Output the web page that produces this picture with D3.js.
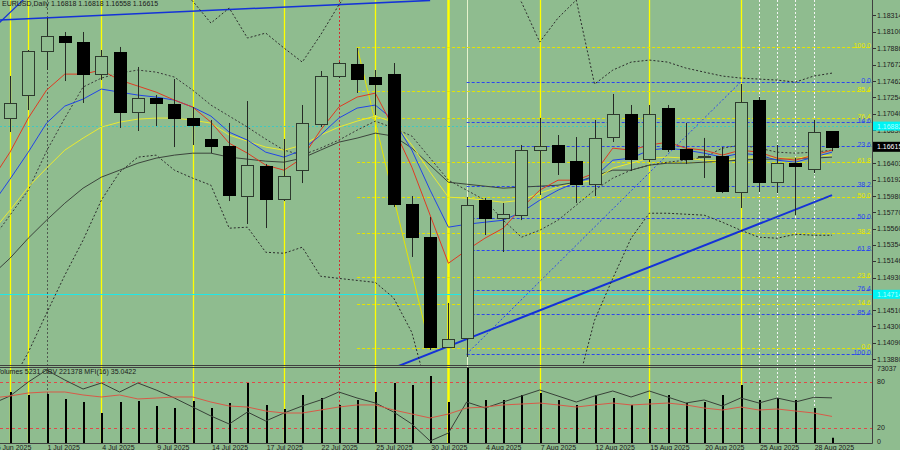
<!DOCTYPE html>
<html><head><meta charset="utf-8">
<script src="https://cdn.jsdelivr.net/npm/d3@7/dist/d3.min.js"></script>
<style>
html,body{margin:0;padding:0;background:#8fbc8f;overflow:hidden}
svg{display:block;font-family:"Liberation Sans",Arial,sans-serif}
</style></head><body>
<svg id="chart" width="900" height="450"></svg>
<script>
// ---------- DATA ----------
const dates = ["2025-06-26","2025-06-27","2025-06-30","2025-07-01","2025-07-02","2025-07-03","2025-07-04","2025-07-07","2025-07-08","2025-07-09","2025-07-10","2025-07-11","2025-07-14","2025-07-15","2025-07-16","2025-07-17","2025-07-18","2025-07-21","2025-07-22","2025-07-23","2025-07-24","2025-07-25","2025-07-28","2025-07-29","2025-07-30","2025-07-31","2025-08-01","2025-08-04","2025-08-05","2025-08-06","2025-08-07","2025-08-08","2025-08-11","2025-08-12","2025-08-13","2025-08-14","2025-08-15","2025-08-18","2025-08-19","2025-08-20","2025-08-21","2025-08-22","2025-08-25","2025-08-26","2025-08-27","2025-08-28","2025-08-29"];
const candleDates = dates.slice(1);
const open  = [1.16987,1.17283,1.17850,1.18043,1.17966,1.17553,1.17837,1.17064,1.17244,1.17167,1.16987,1.16716,1.16625,1.15981,1.16368,1.15942,1.16316,1.16909,1.17528,1.17682,1.17515,1.17553,1.15878,1.15452,1.14035,1.14151,1.15929,1.15697,1.15736,1.16574,1.16638,1.16432,1.16135,1.16741,1.17038,1.16458,1.17115,1.16587,1.16484,1.16496,1.16032,1.17218,1.16161,1.16406,1.16329,1.16818];
const high  = [1.17528,1.17863,1.18275,1.18095,1.18095,1.17863,1.17902,1.17644,1.17283,1.17489,1.17128,1.16961,1.16922,1.17205,1.16393,1.16716,1.17154,1.17592,1.17708,1.17889,1.17605,1.17695,1.15981,1.15710,1.14602,1.15968,1.15955,1.15891,1.16638,1.16987,1.16767,1.16741,1.16961,1.17296,1.17154,1.17154,1.17154,1.16922,1.16729,1.16612,1.17425,1.17257,1.16638,1.16471,1.16961,1.16818];
const low   = [1.16806,1.17089,1.17605,1.17463,1.17180,1.17476,1.16858,1.16819,1.16883,1.16612,1.16638,1.16535,1.15916,1.15620,1.15568,1.15916,1.16148,1.16870,1.17502,1.17309,1.17025,1.15839,1.15195,1.13996,1.14022,1.13906,1.15478,1.15259,1.15671,1.15994,1.16252,1.15891,1.15981,1.16677,1.16303,1.16419,1.16548,1.16393,1.16213,1.16019,1.15826,1.16032,1.16019,1.15736,1.16277,1.16558];
const close = [1.17180,1.17850,1.18043,1.17966,1.17553,1.17786,1.17064,1.17244,1.17180,1.16987,1.16896,1.16625,1.15994,1.16380,1.15942,1.16239,1.16922,1.17528,1.17695,1.17489,1.17425,1.15878,1.15452,1.14035,1.14138,1.15865,1.15697,1.15749,1.16574,1.16625,1.16419,1.16135,1.16729,1.17038,1.16458,1.17038,1.16587,1.16458,1.16496,1.16045,1.17193,1.16161,1.16406,1.16368,1.16806,1.16615];

// indicator lines (one value per entry of `dates`)
const maRed    = [1.16185,1.16546,1.16985,1.17346,1.17552,1.17552,1.17604,1.17475,1.17398,1.17320,1.17217,1.17127,1.16933,1.16662,1.16533,1.16379,1.16314,1.16469,1.16830,1.17127,1.17256,1.17307,1.16856,1.16353,1.15734,1.15114,1.15282,1.15437,1.15566,1.15824,1.16056,1.16185,1.16185,1.16275,1.16598,1.16572,1.16637,1.16675,1.16598,1.16572,1.16508,1.16572,1.16546,1.16469,1.16443,1.16508,1.16572];
const maBlue   = [1.15863,1.16198,1.16546,1.16920,1.17140,1.17230,1.17359,1.17320,1.17282,1.17256,1.17217,1.17127,1.17011,1.16804,1.16701,1.16546,1.16482,1.16572,1.16766,1.16985,1.17114,1.17153,1.16959,1.16572,1.16056,1.15579,1.15617,1.15643,1.15669,1.15772,1.15927,1.16056,1.16159,1.16224,1.16443,1.16469,1.16572,1.16598,1.16572,1.16533,1.16482,1.16533,1.16508,1.16443,1.16417,1.16482,1.16546];
const maYellow = [1.15514,1.15798,1.16095,1.16340,1.16572,1.16727,1.16869,1.16933,1.16972,1.16985,1.16985,1.16959,1.16920,1.16766,1.16688,1.16611,1.16572,1.16637,1.16766,1.16869,1.16946,1.17011,1.16933,1.16637,1.16288,1.15966,1.15953,1.15927,1.15901,1.15927,1.16017,1.16095,1.16146,1.16185,1.16340,1.16404,1.16469,1.16482,1.16469,1.16443,1.16430,1.16482,1.16482,1.16469,1.16469,1.16495,1.16508];
const maGray   = [1.14960,1.15179,1.15437,1.15669,1.15888,1.16082,1.16224,1.16314,1.16404,1.16469,1.16508,1.16533,1.16533,1.16482,1.16456,1.16430,1.16417,1.16469,1.16572,1.16675,1.16727,1.16791,1.16753,1.16598,1.16379,1.16159,1.16133,1.16108,1.16082,1.16095,1.16108,1.16120,1.16159,1.16237,1.16314,1.16314,1.16379,1.16404,1.16404,1.16417,1.16430,1.16443,1.16456,1.16456,1.16469,1.16469,1.16482];
const bandMid  = [1.15411,1.15734,1.16056,1.16559,1.16985,1.17385,1.17501,1.17565,1.17604,1.17578,1.17514,1.17346,1.17153,1.17011,1.16869,1.16714,1.16572,1.16508,1.16598,1.16701,1.16830,1.16946,1.16856,1.16753,1.16469,1.16185,1.16056,1.15927,1.15669,1.15450,1.15540,1.15669,1.15863,1.16056,1.16211,1.16314,1.16379,1.16417,1.16443,1.16482,1.16598,1.16637,1.16598,1.16546,1.16533,1.16546,1.16572];
const bandUpper = [null,null,null,null,null,null,null,null,null,null,1.18636,1.18494,1.18210,1.18404,1.18017,1.18081,1.17888,1.17707,1.18056,1.18443,1.18765,null,null,null,null,null,null,null,1.18765,1.18481,1.17965,1.18275,1.18507,1.17423,1.17604,1.17707,1.17733,1.17707,1.17630,1.17578,1.17527,1.17501,1.17488,1.17475,1.17449,1.17527,1.17565];
const bandLower = [1.13089,1.13540,1.13966,1.14469,1.14960,1.15411,1.15927,1.16288,1.16482,1.16508,1.16314,1.16211,1.16120,1.15566,1.15579,1.15256,1.15243,1.15321,1.14947,1.14919,1.14893,1.14867,1.14668,1.14222,1.13347,null,null,null,null,null,null,null,1.13476,1.14379,1.14919,1.15437,1.15759,1.15759,1.15746,1.15734,1.15643,1.15540,1.15450,1.15437,1.15488,1.15475,1.15475];

// lower panel
const volume = [49660,46740,47720,42850,39930,29210,39930,40900,36030,34080,40900,34080,38950,58430,37000,33110,46740,43820,37000,41870,49660,58430,56480,65240,39930,73037,41870,41870,46740,48690,41870,37000,46740,43820,37000,42850,46740,38950,39930,46740,56480,41870,43820,41870,34080,5231];
const obv = [160000,240000,380000,500000,400000,310000,370000,280000,370000,300000,220000,130000,40000,-40000,80000,-10000,70000,140000,200000,280000,220000,170000,80000,-40000,-210000,-130000,180000,120000,180000,240000,300000,240000,180000,240000,290000,230000,290000,230000,170000,200000,140000,220000,170000,220000,180000,226609,221378];
const mfi = [59,61.7,65.6,66.9,66.9,63,60.4,63,57.8,59,60.4,60.4,53.8,48.6,47.3,42.1,39.5,39.5,43.4,47.3,50,50,43.4,38.2,33,38.2,46,47.3,50,51.2,52.5,50,47.3,50,52.5,50,51.2,52.5,50,46,43.4,47.3,43.4,44.7,42.1,39.5,35.0422];

// axes
const priceTicks = [1.18314,1.18100,1.17886,1.17672,1.17462,1.17254,1.17040,1.16830,1.16403,1.16192,1.15980,1.15770,1.15560,1.15354,1.15146,1.14930,1.14510,1.14300,1.14090,1.13880];
const dateTicks = [["2025-06-26","26 Jun 2025"],["2025-07-01","1 Jul 2025"],["2025-07-04","4 Jul 2025"],["2025-07-09","9 Jul 2025"],["2025-07-14","14 Jul 2025"],["2025-07-17","17 Jul 2025"],["2025-07-22","22 Jul 2025"],["2025-07-25","25 Jul 2025"],["2025-07-30","30 Jul 2025"],["2025-08-04","4 Aug 2025"],["2025-08-07","7 Aug 2025"],["2025-08-12","12 Aug 2025"],["2025-08-15","15 Aug 2025"],["2025-08-20","20 Aug 2025"],["2025-08-25","25 Aug 2025"],["2025-08-28","28 Aug 2025"]];
const lastPrice = 1.16615;
const cyanLevels = [1.16882, 1.14714];
const fibLevels = [0,14.6,23.6,38.2,50,61.8,76.4,85.4,100];
const fibYellow = {startDate:"2025-07-24", endDate:"2025-07-30", hi:1.17902, lo:1.14022};
const fibBlue   = {startDate:"2025-08-01", endDate:"2025-08-22", lo:1.13944, hi:1.17450};
const yellowVLines = ["2025-06-27","2025-06-30","2025-07-04","2025-07-11","2025-07-18","2025-07-25","2025-07-31","2025-08-07","2025-08-15","2025-08-22"];
const lightVLines = ["2025-08-01"];
const whiteDotVLines = ["2025-08-25","2025-08-26","2025-08-27","2025-08-28"];
const redDotVLines = ["2025-07-23"];
const grayDotVLines = ["2025-07-01"];
const trendLines = [
  {d1:"2025-06-26", p1:1.18244, d2:"2025-07-30", p2:1.18502, w:1.5},
  {d1:"2025-06-26", p1:1.18120, d2:"2025-06-30", p2:1.18572, w:1.2},
  {d1:"2025-07-28", p1:1.13765, d2:"2025-08-29", p2:1.15992, w:2}
];
const titleText = "EURUSD,Daily  1.16818 1.16818 1.16558 1.16615";
const indTitle = "Volumes 5231  OBV 221378  MFI(16) 35.0422";

// ---------- LAYOUT ----------
const W=900, H=450, plotR=872, mainB=365.5, indT=367.5, indB=443.5;
const BG="#8fbc8f";
const svg = d3.select("#chart");
const x = d3.scalePoint().domain(dates).range([10-18.267, 832]);
const y = d3.scaleLinear().domain([1.13880,1.18314]).range([359,15]);
const yVol = d3.scaleLinear().domain([0,73037]).range([443,368]);
const yMfi = d3.scaleLinear().domain([0,100]).range([443.3,366.6]);
const yObv = d3.scaleLinear().domain([-230000,520000]).range([443,368]);
const px = v => Math.round(v)+0.5;

const defs = svg.append("defs");
defs.append("clipPath").attr("id","cm").append("rect").attr("x",0).attr("y",0).attr("width",plotR).attr("height",mainB);
defs.append("clipPath").attr("id","ci").append("rect").attr("x",0).attr("y",indT).attr("width",plotR).attr("height",indB-indT);
defs.append("clipPath").attr("id","ca").append("rect").attr("x",0).attr("y",0).attr("width",plotR).attr("height",indB);

svg.append("rect").attr("width",W).attr("height",H).attr("fill",BG);

// vertical lines
const gV = svg.append("g").attr("clip-path","url(#ca)");
function vlines(list,color,dash,width){
  gV.selectAll(null).data(list).join("line")
    .attr("x1",d=>px(x(d))).attr("x2",d=>px(x(d))).attr("y1",0).attr("y2",indB)
    .attr("stroke",color).attr("stroke-width",d=>typeof width==="function"?width(d):width)
    .attr("stroke-dasharray",dash);
}
vlines(grayDotVLines,"#505a50","2,2",1);
vlines(redDotVLines,"#d03030","2,2",1);
vlines(whiteDotVLines,"#f4f4f4","2,2",1);
vlines(lightVLines,"#e6f2cc",null,1);
vlines(yellowVLines,"#ffff00",null,d=>d==="2025-07-31"?2.5:1.3);

// main panel objects
const gM = svg.append("g").attr("clip-path","url(#cm)");
// cyan levels
gM.append("line").attr("x1",0).attr("x2",plotR).attr("y1",px(y(cyanLevels[0]))).attr("y2",px(y(cyanLevels[0])))
  .attr("stroke","#40c8c0").attr("stroke-dasharray","2,2");
gM.append("line").attr("x1",0).attr("x2",plotR).attr("y1",px(y(cyanLevels[1]))).attr("y2",px(y(cyanLevels[1])))
  .attr("stroke","#20e8e8").attr("stroke-width",1);

// fib levels
function fibPrices(f, dir){ return fibLevels.map(l => ({l, p: dir>0 ? f.lo + l/100*(f.hi-f.lo) : f.hi - l/100*(f.hi-f.lo)})); }
const fy = fibPrices(fibYellow, 1), fb = fibPrices(fibBlue, -1);
gM.selectAll(null).data(fy).join("line")
  .attr("x1",x(fibYellow.startDate)).attr("x2",plotR).attr("y1",d=>px(y(d.p))).attr("y2",d=>px(y(d.p)))
  .attr("stroke","#e4e400").attr("stroke-dasharray","3,2");
gM.selectAll(null).data(fb).join("line")
  .attr("x1",x(fibBlue.startDate)).attr("x2",plotR).attr("y1",d=>px(y(d.p))).attr("y2",d=>px(y(d.p)))
  .attr("stroke","#2a46f0").attr("stroke-dasharray","3,2");
// fib diagonals
gM.append("line").attr("x1",x(fibYellow.startDate)).attr("y1",y(fibYellow.hi)).attr("x2",x(fibYellow.endDate)).attr("y2",y(fibYellow.lo))
  .attr("stroke","#e4e400").attr("stroke-width",1);
gM.append("line").attr("x1",x(fibBlue.startDate)).attr("y1",y(fibBlue.lo)).attr("x2",x(fibBlue.endDate)).attr("y2",y(fibBlue.hi))
  .attr("stroke","#2a46f0").attr("stroke-dasharray","2,2");

// trend lines
gM.selectAll(null).data(trendLines).join("line")
  .attr("x1",d=>x(d.d1)).attr("y1",d=>y(d.p1)).attr("x2",d=>x(d.d2)).attr("y2",d=>y(d.p2))
  .attr("stroke","#1432d8").attr("stroke-width",d=>d.w);

// bands & MAs
function series(vals,color,dash,width){
  const line = d3.line().defined(d=>d[1]!=null).x(d=>x(d[0])).y(d=>y(d[1]));
  gM.append("path").datum(dates.map((d,i)=>[d,vals[i]])).attr("d",line)
    .attr("fill","none").attr("stroke",color).attr("stroke-width",width||1).attr("stroke-dasharray",dash);
}
series(bandUpper,"#2c2c2c","2,2");
series(bandLower,"#2c2c2c","2,2");
series(bandMid,"#3a3a3a","2,2");
series(maGray,"#3c443c",null);
series(maYellow,"#eaea30",null);
series(maBlue,"#2244e8",null);
series(maRed,"#e03a22",null);

// candles
const cd = candleDates.map((d,i)=>({d,o:open[i],h:high[i],l:low[i],c:close[i]}));
const gC = gM.append("g");
gC.selectAll(null).data(cd).join("line")
  .attr("x1",d=>px(x(d.d))).attr("x2",d=>px(x(d.d)))
  .attr("y1",d=>y(d.h)).attr("y2",d=>y(d.l))
  .attr("stroke","#262a26").attr("stroke-width",1);
gC.selectAll(null).data(cd).join("rect")
  .attr("x",d=>Math.round(x(d.d))-6+0.5).attr("width",12)
  .attr("y",d=>Math.round(y(Math.max(d.o,d.c)))+0.5)
  .attr("height",d=>Math.max(1,Math.round(y(Math.min(d.o,d.c)))-Math.round(y(Math.max(d.o,d.c)))))
  .attr("fill",d=>d.c>=d.o?BG:"#000").attr("stroke",d=>d.c>=d.o?"#2e3a2e":"#000").attr("stroke-width",1);

// lower panel
const gI = svg.append("g").attr("clip-path","url(#ci)");
gI.selectAll(null).data([80,20]).join("line")
  .attr("x1",0).attr("x2",plotR).attr("y1",d=>px(yMfi(d))).attr("y2",d=>px(yMfi(d)))
  .attr("stroke","#e04848").attr("stroke-dasharray","3,3");
gI.selectAll(null).data(candleDates.map((d,i)=>({d,v:volume[i]}))).join("line")
  .attr("x1",d=>Math.round(x(d.d))+1).attr("x2",d=>Math.round(x(d.d))+1)
  .attr("y1",yVol(0)).attr("y2",d=>yVol(d.v))
  .attr("stroke","#000").attr("stroke-width",2);
gI.append("path").datum(dates.map((d,i)=>[d,obv[i]]))
  .attr("d",d3.line().x(d=>x(d[0])).y(d=>yObv(d[1]))).attr("fill","none").attr("stroke","#384038").attr("stroke-width",1);
gI.append("path").datum(dates.map((d,i)=>[d,mfi[i]]))
  .attr("d",d3.line().x(d=>x(d[0])).y(d=>yMfi(d[1]))).attr("fill","none").attr("stroke","#d85a48").attr("stroke-width",1);

// borders
const bc="#404040";
svg.append("line").attr("x1",0).attr("x2",plotR+0.5).attr("y1",mainB).attr("y2",mainB).attr("stroke",bc);
svg.append("line").attr("x1",0).attr("x2",plotR+0.5).attr("y1",indT).attr("y2",indT).attr("stroke",bc);
svg.append("line").attr("x1",0).attr("x2",plotR+0.5).attr("y1",indB).attr("y2",indB).attr("stroke",bc);
svg.append("line").attr("x1",plotR+0.5).attr("x2",plotR+0.5).attr("y1",0).attr("y2",indB).attr("stroke",bc);

// fib labels
const fs = 7;
svg.selectAll(null).data(fy).join("text")
  .attr("x",plotR-1).attr("y",d=>y(d.p)+1).attr("text-anchor","end").attr("font-size",fs)
  .attr("fill","#e8e800").text(d=>d.l.toFixed(1));
svg.selectAll(null).data(fb).join("text")
  .attr("x",plotR-1).attr("y",d=>y(d.p)+1).attr("text-anchor","end").attr("font-size",fs)
  .attr("fill","#2a46f0").text(d=>d.l.toFixed(1));

// price axis
const ax = svg.append("g");
ax.selectAll(null).data(priceTicks).join("line")
  .attr("x1",plotR+1).attr("x2",plotR+4).attr("y1",d=>px(y(d))).attr("y2",d=>px(y(d))).attr("stroke","#333");
ax.selectAll(null).data(priceTicks).join("text")
  .attr("x",877).attr("y",d=>y(d)+2.5).attr("font-size",fs).attr("fill","#202020").text(d=>d.toFixed(5));
// cyan level boxes
ax.selectAll(null).data(cyanLevels).join("rect")
  .attr("x",873).attr("width",27).attr("y",d=>y(d)-4.5).attr("height",9).attr("fill","#00f4f4");
ax.selectAll(null).data(cyanLevels).join("text")
  .attr("x",877).attr("y",d=>y(d)+2.5).attr("font-size",fs).attr("fill","#b0ffff").text(d=>d.toFixed(5));
// last price box
ax.append("rect").attr("x",873).attr("width",27).attr("y",y(lastPrice)-5).attr("height",10).attr("fill","#000");
ax.append("text").attr("x",877).attr("y",y(lastPrice)+2.5).attr("font-size",fs).attr("fill","#fff").text(lastPrice.toFixed(5));

// indicator axis
const indLabels = [[yVol(73037)+3,"73037"],[yMfi(80)+2.5,"80"],[yMfi(20)+2.5,"20"],[indB,"0"]];
ax.selectAll(null).data(indLabels).join("text")
  .attr("x",877).attr("y",d=>d[1]==="0"?d[0]:d[0]).attr("font-size",fs).attr("fill","#202020").text(d=>d[1]);

// date axis
ax.selectAll(null).data(dateTicks).join("text")
  .attr("x",d=>x(d[0])+1).attr("y",450).attr("font-size",fs).attr("fill","#202020").text(d=>d[1]);

// titles
svg.append("text").attr("x",2).attr("y",6).attr("font-size",fs).attr("fill","#1a1a1a").text(titleText);
svg.append("text").attr("x",-4).attr("y",373.5).attr("font-size",fs).attr("fill","#1a1a1a").text(indTitle);
</script>
</body></html>
